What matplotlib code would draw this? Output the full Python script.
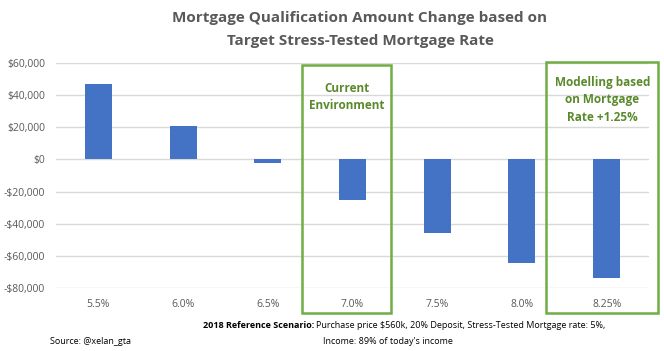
import matplotlib.pyplot as plt
from matplotlib.patches import Rectangle
from matplotlib.ticker import FuncFormatter
import matplotlib.transforms as mtransforms

rates = ["5.5%", "6.0%", "6.5%", "7.0%", "7.5%", "8.0%", "8.25%"]
change = [47000, 21000, -2500, -25300, -45500, -64500, -73500]
yticks = [-80000, -60000, -40000, -20000, 0, 20000, 40000, 60000]

gray = "#595959"
green = "#70AD47"
txt_green = "#5A8A2C"

plt.rcParams['font.family'] = ['Open Sans', 'DejaVu Sans']

fig = plt.figure(figsize=(6.64, 3.51), dpi=100)
ax = fig.add_axes([56/664, 1-288/351, 593/664, 225/351])

ax.bar(range(len(rates)), change, width=0.32, color="#4472C4", zorder=3)
ax.set_xlim(-0.5, len(rates) - 0.5)
ax.set_ylim(-80000, 60000)
ax.set_yticks(yticks)
ax.yaxis.set_major_formatter(FuncFormatter(lambda v, p: ("-$" if v < 0 else "$") + f"{abs(int(v)):,}"))
ax.set_xticks(range(len(rates)))
ax.set_xticklabels(rates)
ax.tick_params(length=0, labelsize=7.5, colors=gray, pad=8)
ax.tick_params(axis="y", pad=8)
ax.grid(axis="y", color="#D9D9D9", linewidth=1, zorder=0)
for s in ax.spines.values():
    s.set_visible(False)

# highlight boxes
trans = mtransforms.blended_transform_factory(ax.transData, fig.transFigure)
ax.add_patch(Rectangle((2.40, 1-313/351), 1.055, (313-65)/351, transform=trans,
                       fill=False, edgecolor=green, lw=1.8, clip_on=False, zorder=5))
ax.add_patch(Rectangle((5.285, 1-313/351), 1.32, (313-62)/351, transform=trans,
                       fill=False, edgecolor=green, lw=1.8, clip_on=False, zorder=5))
ax.text(2.93, 1-97/351, "Current\nEnvironment", transform=trans, ha="center", va="center",
        color=txt_green, fontsize=8.5, fontweight="bold", linespacing=1.4)
ax.text(5.95, 1-100/351, "Modelling based\non Mortgage\nRate +1.25%", transform=trans,
        ha="center", va="center", color=txt_green, fontsize=8.5, fontweight="bold", linespacing=1.45)

fig.text(360/664, 1-18/351, "Mortgage Qualification Amount Change based on", ha="center", va="center",
         fontsize=11, fontweight="bold", color=gray)
fig.text(360/664, 1-41/351, "Target Stress-Tested Mortgage Rate", ha="center", va="center",
         fontsize=11, fontweight="bold", color=gray)

t1 = fig.text(203/664, 1-326/351, "2018 Reference Scenario:", ha="left", va="center",
              fontsize=6.5, fontweight="bold", color="black")
fig.canvas.draw()
bb = t1.get_window_extent()
fig.text(bb.x1/664 + 0.003, 1-326/351, "Purchase price $560k, 20% Deposit, Stress-Tested Mortgage rate: 5%,",
         ha="left", va="center", fontsize=6.5, color="black")
fig.text(388/664, 1-342/351, "Income: 89% of today's income", ha="center", va="center",
         fontsize=6.5, color="black")
fig.text(50/664, 1-342/351, "Source: @xelan_gta", ha="left", va="center", fontsize=6.5, color="black")

fig.savefig("out.png", dpi=100)
